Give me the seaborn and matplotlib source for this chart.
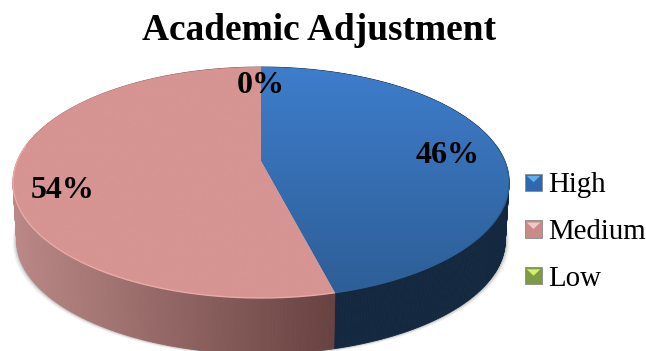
import numpy as np
import matplotlib
matplotlib.use("Agg")
import matplotlib.pyplot as plt
from matplotlib.patches import Polygon, Rectangle
from matplotlib.legend_handler import HandlerBase
import seaborn as sns

categories = ["High", "Medium", "Low"]
shares = [46, 54, 0]
title = "Academic Adjustment"

sns.set_theme(style="white")
plt.rcParams["font.family"] = ["Liberation Serif", "DejaVu Serif"]

top_colors = {"High": ("#3E7DCB", "#2D5E97"), "Medium": ("#D69492", "#D69492"), "Low": ("#9BBB59", "#9BBB59")}
wall_colors = {"High": ("#14283F", "#14283F"), "Medium": ("#BA8886", "#674240"), "Low": ("#6B8A2E", "#6B8A2E")}
rim_colors = {"High": "#2F6199", "Medium": "#EBAAA9", "Low": "#9BBB59"}
swatch_colors = {"High": ("#2F68AE", "#5FB0EE"), "Medium": ("#C98B8A", "#F0C8C6"), "Low": ("#7F9A45", "#D4EE70")}

W, H = 646, 351
CX, CY, A, B, K = 261, 161, 243.7, 111.5, 0.186
DEPTH, BOTTOM_SCALE = 58, 0.985


def project(theta, r=1.0, depth=0.0, scale=1.0):
    X, Y = r * np.sin(theta), r * np.cos(theta)
    d = 1 + K * Y
    return CX + scale * A * X / d, CY - scale * B * Y / d + depth


fig, ax = plt.subplots(figsize=(W / 100, H / 100), dpi=100)
fig.subplots_adjust(0, 0, 1, 1)
ax.set_xlim(0, W)
ax.set_ylim(H, 0)
ax.axis("off")

fractions = np.array(shares, dtype=float) / sum(shares)
edges = np.concatenate([[0], np.cumsum(fractions)]) * 2 * np.pi

# soft shadow under the disc
all_t = np.linspace(0, 2 * np.pi, 360)
for grow, alpha in zip([4.0, 2.5, 1.2], [0.07, 0.12, 0.2]):
    sx, sy = project(all_t, depth=DEPTH + grow * 0.6, scale=BOTTOM_SCALE)
    sx = CX + (sx - CX) * (1 + grow / 240)
    ax.fill(sx, sy, color="#404040", alpha=alpha, lw=0, zorder=1)

# side wall
for name, t0, t1 in zip(categories, edges[:-1], edges[1:]):
    if t1 <= t0:
        continue
    n = max(int((t1 - t0) * 90), 2)
    ts = np.linspace(t0, t1, n + 1)
    xt, yt = project(ts)
    xb, yb = project(ts, depth=DEPTH, scale=BOTTOM_SCALE)
    pal = sns.blend_palette(wall_colors[name], 256)
    xmin, xmax = xt.min(), xt.max()
    for i in range(n):
        u = ((xt[i] + xt[i + 1]) / 2 - xmin) / max(xmax - xmin, 1)
        col = pal[int(u * 255)]
        ax.add_patch(Polygon([(xt[i], yt[i]), (xt[i + 1], yt[i + 1]), (xb[i + 1], yb[i + 1]), (xb[i], yb[i])],
                             closed=True, fc=col, ec=col, lw=0.6, zorder=2))

# top surface
for name, t0, t1 in zip(categories, edges[:-1], edges[1:]):
    if t1 <= t0:
        continue
    ts = np.linspace(t0, t1, 240)
    x, y = project(ts)
    verts = np.column_stack([np.r_[CX, x], np.r_[CY, y]])
    clip = Polygon(verts, closed=True, fc="none", ec="none", transform=ax.transData)
    ax.add_patch(clip)
    pal = np.array(sns.blend_palette(top_colors[name], 128))[:, :3].reshape(128, 1, 3)
    im = ax.imshow(pal, extent=(0, W, y.max(), y.min()), origin="upper", aspect="auto",
                   interpolation="bilinear", zorder=3)
    im.set_clip_path(clip)
    front = np.cos(ts) < 0.15
    ax.plot(x[front], y[front], color=rim_colors[name], lw=1.0, zorder=4, solid_capstyle="butt")
ax.set_xlim(0, W)
ax.set_ylim(H, 0)

# percentage labels
label_r = [0.80, 0.83, 0.85]
label_dx = [-3, 6, 0]
label_dy = [5, 18, 6]
mids = (edges[:-1] + edges[1:]) / 2
for share, mid, r, dx, dy in zip(shares, mids, label_r, label_dx, label_dy):
    lx, ly = project(mid, r=r)
    ax.text(lx + dx, ly + dy, f"{share}%", fontsize=23, fontweight="bold", color="black",
            ha="center", va="center", zorder=6)

ax.set_title(title, fontsize=26.9, fontweight="bold", color="black", x=319 / W, y=1 - 48 / H, va="baseline")


class Bevel(HandlerBase):
    def create_artists(self, legend, orig, xd, yd, width, height, fontsize, trans):
        base, light = orig.get_facecolor(), orig.get_edgecolor()
        y0 = -yd + (height - width) / 2
        x0 = -xd
        sq = Rectangle((x0, y0), width, width, fc=base, ec="#8a8a8a", lw=0.6, transform=trans)
        tri = Polygon([(x0 + width * .1, y0 + width * .88), (x0 + width * .9, y0 + width * .88),
                       (x0 + width * .5, y0 + width * .5)], closed=True, fc=light, ec="none", transform=trans)
        return [sq, tri]


handles = [Rectangle((0, 0), 1, 1, fc=swatch_colors[c][0], ec=swatch_colors[c][1]) for c in categories]
leg = ax.legend(handles, categories, handler_map={Rectangle: Bevel()}, loc="center left",
                bbox_to_anchor=(525 / W, 1 - 232 / H), frameon=False, fontsize=20.8,
                borderpad=0, borderaxespad=0, labelspacing=0.71, handlelength=0.59,
                handletextpad=0.21, labelcolor="black")
leg.set_zorder(7)

fig.savefig("out.png", dpi=100, facecolor="white")
